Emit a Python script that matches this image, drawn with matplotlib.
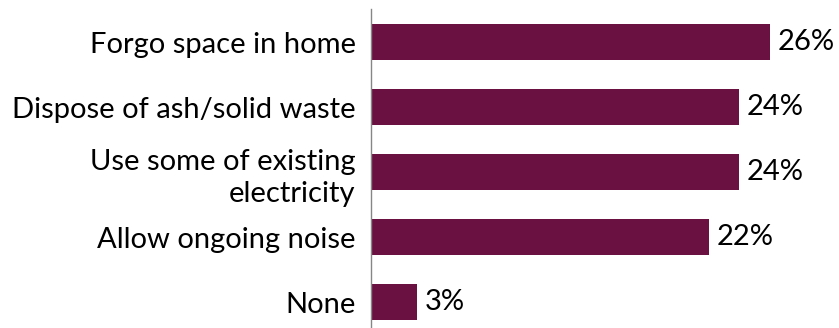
import matplotlib.pyplot as plt

categories = ['Forgo space in home', 'Dispose of ash/solid waste',
              'Use some of existing\nelectricity', 'Allow ongoing noise', 'None']
values = [26, 24, 24, 22, 3]
value_labels = ['26%', '24%', '24%', '22%', '3%']

plt.rcParams['font.family'] = ['Lato', 'DejaVu Sans']

W, H = 839, 328
fig = plt.figure(figsize=(W / 100, H / 100), dpi=100)
ax = fig.add_axes([371 / W, 0, 1 - 371 / W, 1 - 9 / H])

ypos = list(range(len(categories)))
ax.barh(ypos, values, height=0.555, color='#6B1142')

for y, v, lab in zip(ypos, values, value_labels):
    ax.text(v + 0.5, y, lab, va='center', ha='left', fontsize=21, color='black')

ax.set_yticks(ypos)
ax.set_yticklabels(categories, fontsize=21, ha='right', linespacing=1.3)
ax.tick_params(axis='y', length=0, pad=11)
ax.set_xticks([])
ax.set_ylim(4.4, -0.508)
ax.set_xlim(0, (W - 371) / 15.35)

for s in ['top', 'right', 'bottom']:
    ax.spines[s].set_visible(False)
ax.spines['left'].set_color('#868686')
ax.spines['left'].set_linewidth(1)

fig.savefig('out.png', dpi=100)
